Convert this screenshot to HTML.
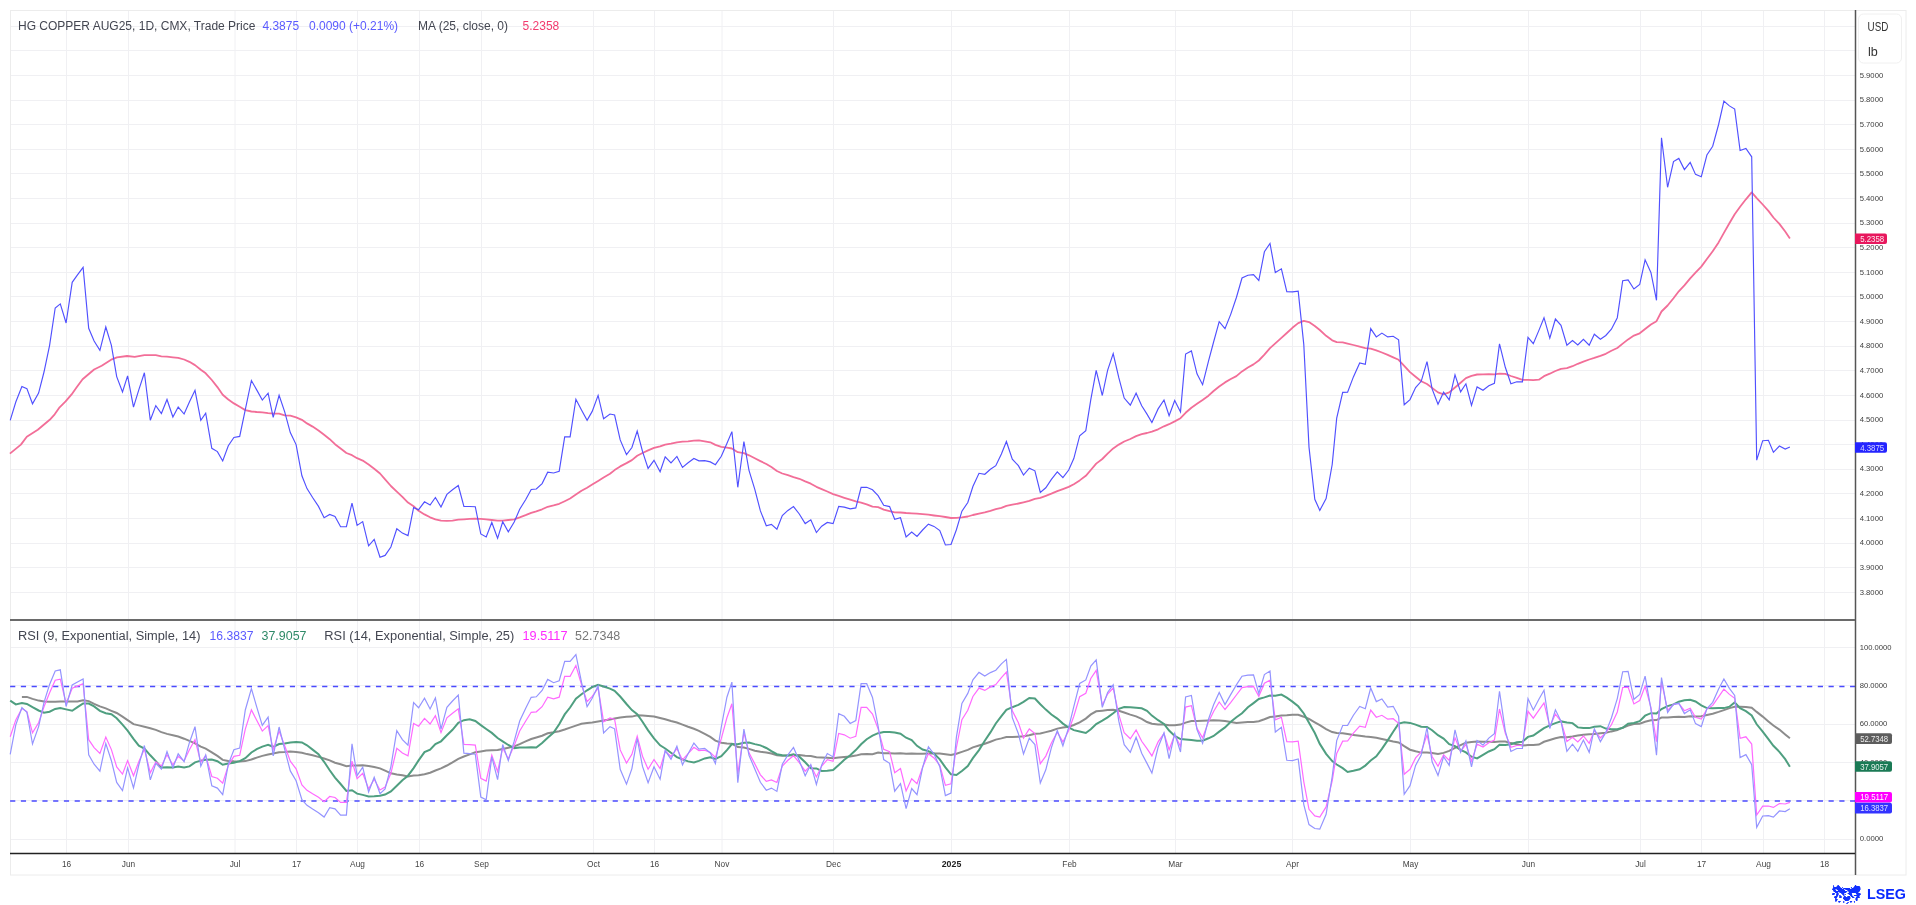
<!DOCTYPE html><html><head><meta charset="utf-8"><style>html,body{margin:0;padding:0;background:#fff;width:1916px;height:905px;overflow:hidden}svg{display:block;will-change:transform}text{font-family:"Liberation Sans",sans-serif}</style></head><body>
<svg width="1916" height="905" viewBox="0 0 1916 905">
<rect x="10.5" y="10.5" width="1895.5" height="864.5" fill="#fff" stroke="#ececec" stroke-width="1"/>
<path d="M66.5,11V853 M128.5,11V853 M235.0,11V853 M296.5,11V853 M357.5,11V853 M419.5,11V853 M481.5,11V853 M593.5,11V853 M654.5,11V853 M722.0,11V853 M833.5,11V853 M951.5,11V853 M1069.5,11V853 M1175.5,11V853 M1292.5,11V853 M1410.5,11V853 M1528.5,11V853 M1640.5,11V853 M1701.5,11V853 M1763.5,11V853 M1824.5,11V853 M11,26.5H1855 M11,50.5H1855 M11,75.5H1855 M11,100.5H1855 M11,124.5H1855 M11,149.5H1855 M11,173.5H1855 M11,198.5H1855 M11,223.5H1855 M11,247.5H1855 M11,272.5H1855 M11,296.5H1855 M11,321.5H1855 M11,346.5H1855 M11,370.5H1855 M11,395.5H1855 M11,420.5H1855 M11,444.5H1855 M11,469.5H1855 M11,493.5H1855 M11,518.5H1855 M11,543.5H1855 M11,567.5H1855 M11,592.5H1855 M11,839.5H1855 M11,800.5H1855 M11,762.5H1855 M11,724.5H1855 M11,685.5H1855 M11,647.5H1855" stroke="#f0f0f3" stroke-width="1" fill="none"/>
<path d="M10.1,686.5H1855" stroke="#4a4aff" stroke-width="1.3" stroke-dasharray="5.2,5.56" fill="none"/>
<path d="M10.1,801.0H1855" stroke="#4a4aff" stroke-width="1.3" stroke-dasharray="5.2,5.56" fill="none"/>
<path d="M1855.5,10V875" stroke="#555" stroke-width="1.5" fill="none"/>
<path d="M10,620H1855" stroke="#6a6a6a" stroke-width="2" fill="none"/>
<path d="M10,853.5H1855" stroke="#222" stroke-width="1.5" fill="none"/>
<path d="M9.9,453.6 L20.9,444.6 L26.8,436.7 L37.8,429.7 L49.7,419.8 L54.7,414.3 L59.6,407.3 L65.6,401.4 L71.6,394.4 L76.5,387.5 L82.6,379.2 L94.1,369.5 L101.7,365.7 L111.9,359.3 L116.9,357.3 L127.1,356.0 L134.7,356.8 L144.4,355.1 L150.3,355.1 L155.8,355.2 L161.4,356.3 L167.0,356.7 L172.9,357.3 L178.2,357.8 L184.1,359.5 L189.4,361.8 L195.0,365.1 L200.8,369.7 L205.7,373.3 L211.8,380.0 L217.4,387.1 L222.7,394.8 L228.3,399.5 L233.9,403.4 L239.7,406.8 L245.3,410.1 L251.4,411.5 L256.7,412.0 L262.3,412.4 L268.1,413.1 L273.2,413.5 L279.1,413.7 L284.7,415.3 L290.3,415.7 L296.1,417.3 L301.9,419.8 L307.0,423.4 L312.6,426.6 L318.5,430.5 L324.1,434.7 L329.7,439.2 L335.0,444.2 L340.6,448.5 L346.4,453.0 L352.0,455.2 L357.1,458.2 L362.7,460.6 L368.6,464.6 L374.2,468.7 L380.0,473.5 L385.1,479.3 L390.9,486.0 L396.8,491.6 L402.4,496.9 L408.0,502.6 L413.6,506.2 L418.6,510.8 L424.5,514.4 L430.1,517.3 L435.4,519.4 L441.0,520.6 L446.9,520.9 L452.5,520.6 L458.3,519.7 L463.9,519.3 L469.7,518.9 L475.3,518.6 L480.8,518.8 L486.2,519.3 L491.8,520.0 L497.6,520.6 L502.7,520.6 L508.3,520.0 L514.2,519.3 L519.7,517.4 L525.6,515.2 L531.2,512.9 L536.3,511.3 L542.1,509.3 L547.7,506.8 L553.6,505.4 L559.2,503.8 L564.7,501.2 L570.1,498.5 L575.9,494.6 L581.5,490.7 L587.1,487.7 L592.2,484.6 L598.1,481.0 L603.6,477.5 L610.0,473.8 L614.6,470.1 L620.2,466.4 L626.5,463.1 L631.9,460.1 L637.2,455.8 L642.5,453.0 L648.1,450.4 L654.0,447.9 L660.1,446.4 L665.2,444.7 L671.0,443.7 L676.9,442.4 L682.5,441.7 L688.1,441.3 L693.9,440.7 L698.9,440.3 L704.7,441.3 L710.3,442.3 L715.4,444.9 L721.3,446.8 L726.9,447.7 L731.9,448.5 L737.8,452.2 L743.9,453.1 L749.0,455.3 L754.8,458.3 L760.4,461.1 L766.3,464.0 L771.4,467.1 L776.9,471.0 L782.3,473.5 L787.9,475.2 L793.5,477.1 L799.3,478.8 L805.2,481.4 L810.8,483.7 L816.4,486.8 L821.7,489.1 L827.3,491.5 L833.1,494.1 L838.7,495.9 L844.3,497.8 L850.2,499.7 L855.8,501.4 L861.1,502.6 L866.7,504.4 L872.5,506.7 L878.1,507.1 L883.7,509.6 L889.6,511.1 L894.7,512.3 L900.5,512.5 L906.1,513.0 L911.7,513.3 L917.0,513.6 L922.6,514.2 L928.4,514.7 L934.0,515.5 L939.8,516.2 L945.4,517.0 L951.0,518.0 L956.4,517.9 L961.9,517.3 L967.8,516.5 L972.9,515.0 L979.0,513.7 L984.8,512.4 L990.4,510.8 L995.8,509.1 L1001.4,507.8 L1006.4,505.9 L1012.3,504.7 L1018.4,503.5 L1023.5,502.3 L1029.3,500.8 L1034.9,498.8 L1040.3,497.8 L1045.8,495.8 L1051.4,493.7 L1057.3,491.2 L1062.9,489.1 L1068.7,486.9 L1073.8,484.2 L1079.7,480.4 L1085.8,475.8 L1090.8,470.0 L1096.2,463.6 L1102.3,459.0 L1107.6,453.7 L1113.2,448.4 L1118.8,444.6 L1124.2,441.5 L1130.3,439.0 L1136.1,436.1 L1141.7,434.1 L1147.0,433.0 L1151.9,431.6 L1158.1,429.3 L1164.0,426.3 L1169.1,424.2 L1174.7,421.4 L1180.5,418.2 L1185.6,412.8 L1191.4,407.7 L1197.0,403.8 L1202.6,400.0 L1208.5,395.7 L1213.6,391.0 L1219.2,386.5 L1225.0,382.4 L1230.8,379.0 L1236.4,376.1 L1242.0,371.4 L1247.9,367.5 L1253.5,364.4 L1258.8,360.5 L1264.4,354.7 L1270.0,348.2 L1275.3,343.4 L1281.4,337.9 L1286.8,333.0 L1292.4,327.8 L1298.2,323.1 L1303.8,320.8 L1309.0,322.1 L1314.8,326.0 L1319.8,330.0 L1326.1,335.8 L1332.2,340.3 L1336.7,342.1 L1342.7,342.4 L1347.6,343.6 L1353.4,345.0 L1359.7,346.7 L1365.3,348.1 L1370.7,348.7 L1376.3,350.3 L1381.9,352.5 L1387.7,354.9 L1393.2,357.4 L1398.6,359.8 L1404.2,365.9 L1410.0,372.1 L1415.6,376.7 L1421.2,381.2 L1427.0,384.0 L1432.1,387.9 L1438.0,392.4 L1443.6,394.3 L1449.2,392.4 L1455.0,387.5 L1460.6,382.7 L1465.9,378.1 L1471.5,375.8 L1477.1,374.5 L1483.0,374.4 L1488.8,374.2 L1494.4,374.4 L1499.5,373.7 L1505.3,373.8 L1510.9,376.0 L1516.8,377.8 L1522.4,379.8 L1528.0,379.8 L1533.3,380.1 L1538.9,379.7 L1544.0,376.2 L1549.8,373.7 L1555.4,371.0 L1561.0,368.8 L1566.9,368.1 L1572.5,366.2 L1577.8,363.8 L1583.4,361.7 L1589.2,359.5 L1594.3,357.9 L1600.4,355.8 L1605.8,353.8 L1611.4,350.8 L1617.3,348.0 L1622.7,343.6 L1628.1,339.4 L1633.9,335.6 L1639.7,333.3 L1645.1,329.0 L1650.9,324.5 L1656.5,321.2 L1661.5,311.5 L1667.6,305.5 L1673.5,298.2 L1678.8,291.3 L1684.4,285.4 L1690.2,278.4 L1695.5,272.6 L1701.3,266.6 L1706.9,259.0 L1712.7,251.3 L1718.6,242.4 L1723.9,232.9 L1729.4,223.3 L1734.7,214.3 L1740.1,206.8 L1745.9,199.3 L1751.7,192.4 L1756.7,198.1 L1762.7,204.5 L1768.4,210.9 L1773.4,217.5 L1779.4,223.9 L1785.2,231.5 L1789.9,238.5" stroke="#f26e98" stroke-width="1.8" fill="none" stroke-linejoin="round"/>
<path d="M10.2,420.3 L15.8,402.0 L21.9,386.5 L26.9,388.6 L32.5,403.8 L38.6,393.1 L44.0,372.0 L49.6,345.3 L55.2,308.0 L60.3,303.9 L66.1,323.0 L72.2,282.3 L77.5,274.9 L83.1,267.3 L88.7,328.3 L94.1,341.0 L99.9,350.4 L105.8,327.0 L111.4,345.3 L116.7,376.6 L122.5,391.9 L127.6,375.8 L133.5,407.1 L138.8,389.8 L144.4,372.8 L150.3,420.3 L155.8,405.6 L161.4,413.5 L167.0,399.5 L172.9,417.0 L178.2,407.1 L184.1,414.0 L189.4,402.0 L195.0,390.3 L200.8,420.3 L205.7,413.2 L211.8,448.3 L217.4,451.6 L222.7,461.0 L228.3,445.8 L233.9,437.4 L239.7,436.4 L245.3,409.7 L251.4,380.5 L256.7,389.9 L262.3,400.1 L268.1,393.2 L273.2,417.4 L279.1,395.3 L284.7,411.8 L290.3,432.6 L296.1,444.6 L301.9,475.8 L307.0,488.6 L312.6,497.5 L318.5,506.4 L324.1,517.8 L329.7,514.5 L335.0,516.5 L340.6,526.7 L346.4,526.7 L352.0,503.1 L357.1,525.4 L362.7,521.6 L368.6,545.8 L374.2,539.4 L380.0,557.2 L385.1,555.4 L390.9,547.0 L396.8,528.7 L402.4,533.1 L408.0,535.6 L413.6,507.6 L418.6,509.7 L424.5,501.8 L430.1,505.1 L435.4,497.5 L441.0,507.1 L446.9,494.4 L452.5,489.8 L458.3,485.5 L463.9,506.4 L469.7,506.5 L475.3,506.8 L480.8,534.0 L486.2,537.0 L491.8,522.5 L497.6,538.3 L502.7,521.8 L508.3,531.9 L514.2,522.0 L519.7,509.3 L525.6,499.7 L531.2,489.5 L536.3,489.0 L542.1,483.6 L547.7,472.2 L553.6,473.0 L559.2,471.2 L564.7,436.9 L570.1,436.9 L575.9,399.2 L581.5,409.9 L587.1,420.3 L592.2,411.4 L598.1,395.4 L603.6,418.8 L610.0,414.0 L614.6,415.0 L620.2,439.9 L626.5,454.7 L631.9,447.5 L637.2,431.0 L642.5,451.4 L648.1,468.4 L654.0,460.3 L660.1,471.7 L665.2,456.9 L671.0,462.8 L676.9,456.4 L682.5,467.4 L688.1,462.8 L693.9,458.5 L698.9,460.8 L704.7,460.6 L710.3,461.9 L715.4,464.7 L721.3,456.3 L726.9,443.6 L731.9,431.6 L737.8,487.3 L743.9,441.5 L749.0,470.3 L754.8,489.3 L760.4,510.9 L766.3,525.7 L771.4,524.4 L776.9,529.2 L782.3,515.5 L787.9,510.4 L793.5,506.6 L799.3,514.0 L805.2,523.6 L810.8,519.8 L816.4,532.5 L821.7,526.2 L827.3,522.4 L833.1,523.6 L838.7,506.4 L844.3,507.1 L850.2,508.9 L855.8,507.9 L861.1,487.3 L866.7,487.3 L872.5,489.8 L878.1,495.7 L883.7,505.3 L889.6,506.6 L894.7,519.3 L900.5,517.8 L906.1,536.9 L911.7,532.0 L917.0,536.4 L922.6,530.0 L928.4,524.2 L934.0,526.4 L939.8,530.5 L945.4,545.0 L951.0,544.5 L956.4,529.7 L961.9,511.2 L967.8,502.5 L972.9,486.5 L979.0,473.3 L984.8,474.3 L990.4,469.2 L995.8,465.7 L1001.4,454.0 L1006.4,441.5 L1012.3,459.1 L1018.4,465.7 L1023.5,475.1 L1029.3,468.2 L1034.9,470.8 L1040.3,492.4 L1045.8,487.8 L1051.4,479.4 L1057.3,471.8 L1062.9,477.6 L1068.7,470.0 L1073.8,458.6 L1079.7,435.7 L1085.8,430.6 L1090.8,399.6 L1096.2,370.3 L1102.3,395.5 L1107.6,370.3 L1113.2,353.6 L1118.8,377.7 L1124.2,398.1 L1130.3,405.2 L1136.1,393.2 L1141.7,405.7 L1147.0,414.1 L1151.9,422.5 L1158.1,408.9 L1164.0,400.0 L1169.1,415.8 L1174.7,400.5 L1180.5,411.9 L1185.6,354.0 L1191.4,350.9 L1197.0,373.8 L1202.6,384.7 L1208.5,361.1 L1213.6,342.0 L1219.2,321.7 L1225.0,328.6 L1230.8,314.1 L1236.4,297.5 L1242.0,278.0 L1247.9,275.2 L1253.5,274.7 L1258.8,280.5 L1264.4,251.8 L1270.0,243.4 L1275.3,272.6 L1281.4,268.8 L1286.8,291.7 L1292.4,291.9 L1298.2,291.2 L1303.8,344.6 L1309.0,447.1 L1314.8,499.3 L1319.8,510.4 L1326.1,498.5 L1332.2,464.5 L1336.7,418.1 L1342.7,392.4 L1347.6,392.1 L1353.4,376.9 L1359.7,362.9 L1365.3,364.4 L1370.7,328.6 L1376.3,336.9 L1381.9,333.1 L1387.7,336.9 L1393.2,336.3 L1398.6,339.8 L1404.2,404.7 L1410.0,399.6 L1415.6,387.6 L1421.2,381.3 L1427.0,361.7 L1432.1,388.9 L1438.0,404.2 L1443.6,392.2 L1449.2,399.8 L1455.0,374.9 L1460.6,391.9 L1465.9,383.8 L1471.5,405.4 L1477.1,386.9 L1483.0,390.2 L1488.8,385.8 L1494.4,383.3 L1499.5,343.9 L1505.3,367.3 L1510.9,383.8 L1516.8,381.8 L1522.4,381.8 L1528.0,337.3 L1533.3,343.6 L1538.9,330.4 L1544.0,317.7 L1549.8,338.1 L1555.4,319.0 L1561.0,325.3 L1566.9,345.2 L1572.5,340.6 L1577.8,344.9 L1583.4,339.3 L1589.2,345.2 L1594.3,334.2 L1600.4,339.3 L1605.8,335.5 L1611.4,329.2 L1617.3,317.7 L1622.7,280.7 L1628.1,279.9 L1633.9,289.0 L1639.7,284.5 L1645.1,259.8 L1650.9,272.5 L1656.5,300.3 L1661.5,137.7 L1667.6,187.3 L1673.5,161.6 L1678.8,158.4 L1684.4,169.6 L1690.2,162.4 L1695.5,174.4 L1701.3,176.7 L1706.9,155.0 L1712.7,146.2 L1718.6,124.5 L1723.9,101.1 L1729.4,105.9 L1734.7,109.1 L1740.1,150.5 L1745.9,148.4 L1751.7,156.8 L1756.7,460.2 L1762.7,440.7 L1768.4,440.3 L1773.4,452.3 L1779.4,446.0 L1785.2,449.0 L1789.9,447.0" stroke="#5050ff" stroke-width="1.15" fill="none" stroke-linejoin="miter"/>
<path d="M21.9,696.9 L26.9,696.9 L32.5,698.9 L38.6,700.6 L44.0,701.4 L49.6,701.7 L55.2,701.7 L60.3,701.4 L66.1,701.4 L72.2,701.4 L77.5,701.4 L83.1,700.2 L88.7,701.1 L94.1,703.9 L99.9,706.4 L105.8,708.4 L111.4,710.8 L116.7,713.0 L122.5,716.7 L127.6,720.1 L133.5,724.1 L138.8,725.4 L144.4,726.7 L150.3,728.2 L155.8,729.9 L161.4,732.1 L167.0,733.9 L172.9,735.2 L178.2,736.5 L184.1,738.7 L189.4,740.9 L195.0,743.3 L200.8,746.6 L205.7,748.7 L211.8,752.3 L217.4,755.9 L222.7,759.9 L228.3,760.9 L233.9,761.3 L239.7,761.4 L245.3,761.1 L251.4,759.5 L256.7,757.6 L262.3,755.9 L268.1,754.5 L273.2,753.4 L279.1,752.2 L284.7,752.1 L290.3,751.6 L296.1,751.9 L301.9,752.7 L307.0,754.1 L312.6,755.2 L318.5,756.9 L324.1,758.5 L329.7,760.4 L335.0,762.7 L340.6,764.3 L346.4,766.2 L352.0,765.6 L357.1,765.6 L362.7,765.2 L368.6,766.1 L374.2,767.0 L380.0,768.4 L385.1,770.7 L390.9,773.3 L396.8,774.4 L402.4,775.3 L408.0,776.5 L413.6,775.4 L418.6,775.2 L424.5,774.2 L430.1,772.7 L435.4,770.5 L441.0,768.4 L446.9,765.5 L452.5,762.3 L458.3,758.8 L463.9,756.5 L469.7,754.4 L475.3,752.3 L480.8,751.4 L486.2,750.5 L491.8,750.3 L497.6,750.0 L502.7,749.0 L508.3,747.8 L514.2,746.4 L519.7,744.1 L525.6,741.4 L531.2,739.0 L536.3,737.5 L542.1,735.7 L547.7,733.3 L553.6,732.3 L559.2,731.2 L564.7,729.5 L570.1,727.6 L575.9,725.6 L581.5,723.7 L587.1,723.0 L592.2,722.4 L598.1,721.5 L603.6,720.6 L610.0,719.5 L614.6,718.5 L620.2,717.4 L626.5,716.7 L631.9,716.6 L637.2,715.2 L642.5,715.5 L648.1,716.0 L654.0,716.5 L660.1,718.0 L665.2,719.2 L671.0,721.0 L676.9,722.5 L682.5,724.6 L688.1,726.8 L693.9,728.8 L698.9,730.9 L704.7,733.9 L710.3,736.9 L715.4,740.6 L721.3,742.7 L726.9,743.4 L731.9,743.7 L737.8,747.1 L743.9,747.5 L749.0,748.9 L754.8,750.7 L760.4,751.7 L766.3,752.4 L771.4,753.5 L776.9,755.3 L782.3,755.7 L787.9,755.4 L793.5,755.2 L799.3,755.0 L805.2,755.8 L810.8,756.1 L816.4,757.3 L821.7,757.5 L827.3,757.7 L833.1,758.3 L838.7,757.6 L844.3,757.0 L850.2,756.4 L855.8,755.6 L861.1,754.3 L866.7,753.9 L872.5,754.3 L878.1,752.5 L883.7,753.2 L889.6,753.2 L894.7,753.5 L900.5,753.3 L906.1,753.7 L911.7,753.6 L917.0,753.7 L922.6,753.7 L928.4,753.4 L934.0,753.5 L939.8,753.6 L945.4,754.2 L951.0,755.0 L956.4,753.8 L961.9,751.9 L967.8,749.9 L972.9,747.4 L979.0,745.5 L984.8,743.8 L990.4,741.7 L995.8,739.6 L1001.4,738.4 L1006.4,737.0 L1012.3,736.9 L1018.4,736.7 L1023.5,736.2 L1029.3,735.3 L1034.9,733.7 L1040.3,733.5 L1045.8,732.1 L1051.4,730.7 L1057.3,728.6 L1062.9,727.6 L1068.7,726.7 L1073.8,725.0 L1079.7,722.3 L1085.8,718.6 L1090.8,714.4 L1096.2,711.3 L1102.3,710.7 L1107.6,710.1 L1113.2,709.7 L1118.8,710.8 L1124.2,712.5 L1130.3,714.6 L1136.1,716.4 L1141.7,718.9 L1147.0,722.0 L1151.9,723.8 L1158.1,724.6 L1164.0,724.4 L1169.1,725.2 L1174.7,725.3 L1180.5,724.6 L1185.6,722.6 L1191.4,721.1 L1197.0,721.0 L1202.6,720.8 L1208.5,720.5 L1213.6,720.3 L1219.2,720.5 L1225.0,721.1 L1230.8,722.1 L1236.4,723.1 L1242.0,722.4 L1247.9,722.1 L1253.5,722.0 L1258.8,721.3 L1264.4,719.3 L1270.0,717.0 L1275.3,716.6 L1281.4,715.6 L1286.8,715.3 L1292.4,714.8 L1298.2,714.7 L1303.8,716.7 L1309.0,719.0 L1314.8,722.3 L1319.8,725.1 L1326.1,729.1 L1332.2,732.1 L1336.7,733.1 L1342.7,733.2 L1347.6,734.0 L1353.4,734.9 L1359.7,735.8 L1365.3,736.6 L1370.7,736.9 L1376.3,737.8 L1381.9,738.9 L1387.7,740.2 L1393.2,741.5 L1398.6,742.5 L1404.2,746.2 L1410.0,749.7 L1415.6,751.3 L1421.2,752.6 L1427.0,752.4 L1432.1,752.9 L1438.0,754.0 L1443.6,752.9 L1449.2,750.9 L1455.0,747.8 L1460.6,745.2 L1465.9,742.7 L1471.5,741.9 L1477.1,741.5 L1483.0,741.7 L1488.8,741.8 L1494.4,742.1 L1499.5,741.4 L1505.3,741.6 L1510.9,743.1 L1516.8,744.3 L1522.4,745.5 L1528.0,745.1 L1533.3,745.1 L1538.9,744.6 L1544.0,741.8 L1549.8,740.0 L1555.4,738.3 L1561.0,737.1 L1566.9,737.3 L1572.5,736.6 L1577.8,735.6 L1583.4,734.8 L1589.2,734.2 L1594.3,733.9 L1600.4,733.3 L1605.8,732.8 L1611.4,731.4 L1617.3,730.1 L1622.7,727.7 L1628.1,725.5 L1633.9,724.1 L1639.7,723.7 L1645.1,721.8 L1650.9,720.2 L1656.5,720.1 L1661.5,717.5 L1667.6,717.5 L1673.5,716.9 L1678.8,716.7 L1684.4,717.0 L1690.2,716.3 L1695.5,716.4 L1701.3,716.3 L1706.9,715.0 L1712.7,713.7 L1718.6,711.9 L1723.9,710.1 L1729.4,708.1 L1734.7,706.8 L1740.1,706.8 L1745.9,707.0 L1751.7,707.8 L1756.7,711.9 L1762.7,716.6 L1768.4,721.4 L1773.4,725.5 L1779.4,729.6 L1785.2,734.4 L1789.9,738.2" stroke="#8c8c8c" stroke-width="2" fill="none"/>
<path d="M10.2,700.6 L15.8,704.4 L21.9,703.1 L26.9,703.9 L32.5,707.2 L38.6,710.5 L44.0,712.7 L49.6,711.7 L55.2,708.9 L60.3,708.0 L66.1,709.4 L72.2,710.8 L77.5,707.2 L83.1,703.5 L88.7,703.6 L94.1,706.4 L99.9,710.9 L105.8,713.2 L111.4,714.3 L116.7,718.3 L122.5,724.6 L127.6,730.6 L133.5,738.9 L138.8,745.7 L144.4,748.5 L150.3,755.3 L155.8,761.1 L161.4,767.6 L167.0,767.3 L172.9,767.6 L178.2,766.4 L184.1,767.6 L189.4,766.4 L195.0,762.4 L200.8,760.6 L205.7,759.7 L211.8,759.6 L217.4,761.2 L222.7,764.8 L228.3,763.6 L233.9,762.7 L239.7,761.1 L245.3,758.2 L251.4,752.5 L256.7,749.2 L262.3,746.6 L268.1,744.8 L273.2,746.8 L279.1,744.0 L284.7,743.6 L290.3,742.6 L296.1,742.0 L301.9,742.4 L307.0,745.3 L312.6,749.6 L318.5,754.2 L324.1,761.8 L329.7,770.3 L335.0,777.6 L340.6,784.0 L346.4,791.0 L352.0,790.2 L357.1,793.6 L362.7,794.9 L368.6,796.4 L374.2,796.2 L380.0,795.7 L385.1,794.6 L390.9,791.5 L396.8,785.7 L402.4,780.2 L408.0,775.7 L413.6,768.1 L418.6,760.4 L424.5,752.1 L430.1,749.6 L435.4,744.0 L441.0,741.3 L446.9,735.3 L452.5,729.8 L458.3,722.8 L463.9,720.2 L469.7,719.3 L475.3,721.0 L480.8,725.1 L486.2,729.0 L491.8,732.9 L497.6,738.0 L502.7,741.3 L508.3,745.0 L514.2,748.1 L519.7,747.5 L525.6,747.6 L531.2,747.3 L536.3,747.5 L542.1,743.0 L547.7,737.7 L553.6,732.6 L559.2,724.3 L564.7,714.4 L570.1,707.5 L575.9,698.6 L581.5,694.2 L587.1,690.3 L592.2,687.2 L598.1,684.7 L603.6,686.5 L610.0,688.6 L614.6,690.8 L620.2,696.5 L626.5,704.0 L631.9,710.1 L637.2,714.2 L642.5,721.7 L648.1,730.4 L654.0,738.4 L660.1,745.3 L665.2,748.5 L671.0,752.8 L676.9,757.1 L682.5,759.4 L688.1,761.4 L693.9,762.4 L698.9,760.9 L704.7,758.4 L710.3,757.3 L715.4,759.0 L721.3,756.2 L726.9,750.1 L731.9,744.1 L737.8,744.3 L743.9,742.8 L749.0,742.5 L754.8,744.1 L760.4,745.4 L766.3,748.0 L771.4,751.2 L776.9,754.2 L782.3,755.3 L787.9,755.5 L793.5,754.3 L799.3,756.7 L805.2,762.3 L810.8,768.2 L816.4,768.4 L821.7,770.9 L827.3,770.8 L833.1,770.0 L838.7,765.1 L844.3,759.8 L850.2,755.2 L855.8,750.1 L861.1,744.3 L866.7,739.2 L872.5,735.7 L878.1,733.2 L883.7,732.1 L889.6,732.0 L894.7,732.5 L900.5,733.8 L906.1,737.7 L911.7,740.0 L917.0,745.8 L922.6,749.5 L928.4,751.1 L934.0,753.5 L939.8,759.4 L945.4,767.4 L951.0,774.3 L956.4,775.0 L961.9,771.0 L967.8,766.0 L972.9,758.1 L979.0,750.1 L984.8,740.7 L990.4,732.4 L995.8,723.5 L1001.4,716.1 L1006.4,709.8 L1012.3,707.2 L1018.4,704.9 L1023.5,701.9 L1029.3,698.0 L1034.9,698.5 L1040.3,704.2 L1045.8,709.6 L1051.4,714.5 L1057.3,718.6 L1062.9,723.6 L1068.7,727.5 L1073.8,730.1 L1079.7,731.5 L1085.8,733.0 L1090.8,729.3 L1096.2,724.0 L1102.3,720.7 L1107.6,717.4 L1113.2,713.2 L1118.8,708.8 L1124.2,707.0 L1130.3,707.3 L1136.1,707.8 L1141.7,708.3 L1147.0,710.9 L1151.9,715.6 L1158.1,720.2 L1164.0,724.0 L1169.1,730.6 L1174.7,735.9 L1180.5,739.1 L1185.6,739.4 L1191.4,740.1 L1197.0,740.7 L1202.6,740.7 L1208.5,738.3 L1213.6,736.0 L1219.2,731.6 L1225.0,727.4 L1230.8,721.8 L1236.4,717.3 L1242.0,713.3 L1247.9,707.3 L1253.5,703.1 L1258.8,699.0 L1264.4,697.4 L1270.0,695.6 L1275.3,695.8 L1281.4,694.6 L1286.8,697.6 L1292.4,701.6 L1298.2,706.3 L1303.8,713.5 L1309.0,722.8 L1314.8,733.0 L1319.8,743.9 L1326.1,753.9 L1332.2,761.1 L1336.7,764.5 L1342.7,768.1 L1347.6,772.0 L1353.4,770.8 L1359.7,769.3 L1365.3,765.6 L1370.7,760.5 L1376.3,756.4 L1381.9,748.8 L1387.7,740.4 L1393.2,731.7 L1398.6,723.6 L1404.2,722.2 L1410.0,722.9 L1415.6,724.6 L1421.2,726.8 L1427.0,726.9 L1432.1,730.2 L1438.0,735.2 L1443.6,738.6 L1449.2,744.1 L1455.0,746.1 L1460.6,749.9 L1465.9,752.4 L1471.5,756.7 L1477.1,758.4 L1483.0,754.9 L1488.8,751.5 L1494.4,749.2 L1499.5,744.7 L1505.3,744.9 L1510.9,744.2 L1516.8,742.2 L1522.4,741.7 L1528.0,736.9 L1533.3,735.5 L1538.9,731.7 L1544.0,728.1 L1549.8,725.3 L1555.4,723.1 L1561.0,721.4 L1566.9,722.4 L1572.5,723.1 L1577.8,727.4 L1583.4,728.1 L1589.2,728.1 L1594.3,726.7 L1600.4,726.2 L1605.8,728.6 L1611.4,729.2 L1617.3,729.2 L1622.7,727.8 L1628.1,723.7 L1633.9,723.0 L1639.7,721.1 L1645.1,715.7 L1650.9,713.2 L1656.5,713.5 L1661.5,709.0 L1667.6,706.1 L1673.5,704.4 L1678.8,701.7 L1684.4,700.3 L1690.2,699.7 L1695.5,701.5 L1701.3,705.4 L1706.9,708.1 L1712.7,708.3 L1718.6,707.9 L1723.9,708.1 L1729.4,706.7 L1734.7,702.4 L1740.1,708.1 L1745.9,711.1 L1751.7,715.4 L1756.7,724.3 L1762.7,731.6 L1768.4,739.2 L1773.4,745.8 L1779.4,751.9 L1785.2,759.2 L1789.9,766.8" stroke="#4f9f80" stroke-width="2" fill="none"/>
<path d="M10.2,736.8 L15.8,719.9 L21.9,708.6 L26.9,711.6 L32.5,732.8 L38.6,722.7 L44.0,706.7 L49.6,692.7 L55.2,680.2 L60.3,679.1 L66.1,703.7 L72.2,688.3 L77.5,686.1 L83.1,683.7 L88.7,739.7 L94.1,747.6 L99.9,753.4 L105.8,737.1 L111.4,749.6 L116.7,767.0 L122.5,774.1 L127.6,760.6 L133.5,775.8 L138.8,761.7 L144.4,749.0 L150.3,772.8 L155.8,762.0 L161.4,765.9 L167.0,754.8 L172.9,764.9 L178.2,756.4 L184.1,760.9 L189.4,749.7 L195.0,739.5 L200.8,762.3 L205.7,755.5 L211.8,776.5 L217.4,778.2 L222.7,783.1 L228.3,765.4 L233.9,756.4 L239.7,755.3 L245.3,729.1 L251.4,709.9 L256.7,720.3 L262.3,731.1 L268.1,725.6 L273.2,749.6 L279.1,731.0 L284.7,745.7 L290.3,761.2 L296.1,768.9 L301.9,785.0 L307.0,790.3 L312.6,793.8 L318.5,797.3 L324.1,801.7 L329.7,796.5 L335.0,797.5 L340.6,802.4 L346.4,802.4 L352.0,761.1 L357.1,778.7 L362.7,773.2 L368.6,788.8 L374.2,779.3 L380.0,790.0 L385.1,787.1 L390.9,773.3 L396.8,748.3 L402.4,753.0 L408.0,755.9 L413.6,723.4 L418.6,726.2 L424.5,718.4 L430.1,724.0 L435.4,715.7 L441.0,732.6 L446.9,717.9 L452.5,713.2 L458.3,708.8 L463.9,744.5 L469.7,744.7 L475.3,745.1 L480.8,778.3 L486.2,781.0 L491.8,755.2 L497.6,771.6 L502.7,747.9 L508.3,758.8 L514.2,745.6 L519.7,731.0 L525.6,721.3 L531.2,712.3 L536.3,711.8 L542.1,706.7 L547.7,697.1 L553.6,698.8 L559.2,697.2 L564.7,676.4 L570.1,676.4 L575.9,665.5 L581.5,684.6 L587.1,701.7 L592.2,696.4 L598.1,688.1 L603.6,721.7 L610.0,717.9 L614.6,719.4 L620.2,749.9 L626.5,763.1 L631.9,754.3 L637.2,736.2 L642.5,756.2 L648.1,769.3 L654.0,759.5 L660.1,768.7 L665.2,751.0 L671.0,756.5 L676.9,748.6 L682.5,760.0 L688.1,753.6 L693.9,747.3 L698.9,750.6 L704.7,750.2 L710.3,752.4 L715.4,757.5 L721.3,738.7 L726.9,717.8 L731.9,703.7 L737.8,773.9 L743.9,732.3 L749.0,752.8 L754.8,763.9 L760.4,774.8 L766.3,781.3 L771.4,780.0 L776.9,782.5 L782.3,766.1 L787.9,760.3 L793.5,755.7 L799.3,762.6 L805.2,771.2 L810.8,765.2 L816.4,776.9 L821.7,766.1 L827.3,759.6 L833.1,761.3 L838.7,733.5 L844.3,734.8 L850.2,738.2 L855.8,736.3 L861.1,707.4 L866.7,707.4 L872.5,714.1 L878.1,728.9 L883.7,749.3 L889.6,751.7 L894.7,772.7 L900.5,768.6 L906.1,791.0 L911.7,778.8 L917.0,783.7 L922.6,767.3 L928.4,753.8 L934.0,757.9 L939.8,765.3 L945.4,785.3 L951.0,783.8 L956.4,747.5 L961.9,719.6 L967.8,710.2 L972.9,696.5 L979.0,688.1 L984.8,690.4 L990.4,686.9 L995.8,684.6 L1001.4,677.6 L1006.4,672.0 L1012.3,710.9 L1018.4,722.7 L1023.5,738.0 L1029.3,729.0 L1034.9,733.5 L1040.3,763.7 L1045.8,756.1 L1051.4,742.9 L1057.3,732.2 L1062.9,741.9 L1068.7,730.5 L1073.8,716.2 L1079.7,696.7 L1085.8,693.3 L1090.8,678.5 L1096.2,670.4 L1102.3,705.1 L1107.6,694.1 L1113.2,688.1 L1118.8,714.7 L1124.2,732.8 L1130.3,738.8 L1136.1,729.9 L1141.7,741.3 L1147.0,748.7 L1151.9,755.9 L1158.1,741.9 L1164.0,733.4 L1169.1,749.8 L1174.7,734.7 L1180.5,746.5 L1185.6,707.1 L1191.4,705.7 L1197.0,728.4 L1202.6,737.8 L1208.5,721.9 L1213.6,711.5 L1219.2,702.0 L1225.0,709.5 L1230.8,702.3 L1236.4,695.0 L1242.0,687.6 L1247.9,686.6 L1253.5,686.4 L1258.8,696.3 L1264.4,683.2 L1270.0,680.3 L1275.3,719.9 L1281.4,717.3 L1286.8,741.7 L1292.4,741.9 L1298.2,741.1 L1303.8,781.8 L1309.0,809.3 L1314.8,815.9 L1319.8,817.1 L1326.1,806.9 L1332.2,780.8 L1336.7,753.5 L1342.7,741.2 L1347.6,741.0 L1353.4,733.2 L1359.7,726.2 L1365.3,727.4 L1370.7,710.1 L1376.3,717.2 L1381.9,715.3 L1387.7,719.2 L1393.2,718.7 L1398.6,723.2 L1404.2,774.2 L1410.0,769.3 L1415.6,757.9 L1421.2,751.9 L1427.0,734.9 L1432.1,756.5 L1438.0,766.2 L1443.6,754.8 L1449.2,760.4 L1455.0,737.8 L1460.6,751.6 L1465.9,744.4 L1471.5,761.1 L1477.1,744.2 L1483.0,747.0 L1488.8,742.7 L1494.4,740.1 L1499.5,709.0 L1505.3,733.3 L1510.9,747.3 L1516.8,745.5 L1522.4,745.5 L1528.0,711.3 L1533.3,718.2 L1538.9,710.1 L1544.0,702.9 L1549.8,726.6 L1555.4,714.1 L1561.0,721.3 L1566.9,741.4 L1572.5,737.3 L1577.8,741.9 L1583.4,736.0 L1589.2,743.3 L1594.3,730.6 L1600.4,737.8 L1605.8,732.9 L1611.4,724.8 L1617.3,712.0 L1622.7,687.5 L1628.1,687.1 L1633.9,703.9 L1639.7,700.5 L1645.1,686.1 L1650.9,707.4 L1656.5,741.6 L1661.5,681.7 L1667.6,710.5 L1673.5,704.3 L1678.8,703.5 L1684.4,710.7 L1690.2,708.3 L1695.5,717.2 L1701.3,719.1 L1706.9,709.1 L1712.7,705.4 L1718.6,696.8 L1723.9,689.1 L1729.4,694.4 L1734.7,698.3 L1740.1,738.3 L1745.9,736.8 L1751.7,744.1 L1756.7,815.0 L1762.7,806.2 L1768.4,806.0 L1773.4,807.4 L1779.4,803.5 L1785.2,804.0 L1789.9,802.4" stroke="#ff6aff" stroke-width="1.2" fill="none"/>
<path d="M10.2,754.3 L15.8,724.9 L21.9,707.5 L26.9,712.2 L32.5,744.0 L38.6,726.6 L44.0,702.3 L49.6,684.4 L55.2,670.9 L60.3,669.8 L66.1,706.5 L72.2,684.9 L77.5,682.0 L83.1,678.9 L88.7,754.9 L94.1,764.2 L99.9,771.1 L105.8,743.5 L111.4,760.7 L116.7,782.4 L122.5,790.6 L127.6,767.8 L133.5,787.8 L138.8,765.0 L144.4,745.5 L150.3,779.9 L155.8,763.4 L161.4,769.2 L167.0,751.5 L172.9,767.8 L178.2,753.8 L184.1,761.6 L189.4,742.7 L195.0,726.7 L200.8,766.2 L205.7,755.0 L211.8,785.9 L217.4,788.1 L222.7,794.7 L228.3,764.3 L233.9,749.7 L239.7,748.0 L245.3,710.0 L251.4,688.7 L256.7,706.8 L262.3,725.4 L268.1,717.2 L273.2,755.9 L279.1,727.0 L284.7,749.4 L290.3,770.9 L296.1,780.8 L301.9,799.7 L307.0,805.3 L312.6,809.0 L318.5,812.7 L324.1,817.0 L329.7,807.6 L335.0,808.9 L340.6,815.1 L346.4,815.1 L352.0,743.8 L357.1,775.7 L362.7,767.2 L368.6,792.0 L374.2,777.3 L380.0,793.6 L385.1,788.9 L390.9,766.6 L396.8,730.7 L402.4,739.6 L408.0,745.2 L413.6,702.5 L418.6,707.7 L424.5,698.3 L430.1,709.0 L435.4,697.9 L441.0,729.2 L446.9,707.4 L452.5,701.0 L458.3,695.0 L463.9,753.2 L469.7,753.6 L475.3,754.2 L480.8,797.1 L486.2,799.8 L491.8,756.9 L497.6,779.7 L502.7,744.5 L508.3,760.6 L514.2,741.2 L519.7,721.0 L525.6,708.5 L531.2,697.3 L536.3,696.8 L542.1,690.4 L547.7,679.4 L553.6,682.7 L559.2,680.7 L564.7,661.4 L570.1,661.4 L575.9,654.5 L581.5,682.2 L587.1,706.6 L592.2,698.2 L598.1,685.9 L603.6,732.9 L610.0,726.6 L614.6,728.8 L620.2,769.3 L626.5,784.2 L631.9,768.6 L637.2,738.5 L642.5,766.4 L648.1,782.7 L654.0,766.7 L660.1,779.2 L665.2,750.6 L671.0,759.2 L676.9,746.2 L682.5,764.8 L688.1,753.7 L693.9,743.0 L698.9,749.2 L704.7,748.3 L710.3,753.0 L715.4,763.6 L721.3,727.0 L726.9,697.2 L731.9,682.1 L737.8,782.6 L743.9,729.0 L749.0,755.2 L754.8,769.0 L760.4,782.3 L766.3,790.2 L771.4,788.1 L776.9,791.4 L782.3,764.3 L787.9,754.9 L793.5,747.4 L799.3,760.7 L805.2,775.7 L810.8,764.6 L816.4,784.4 L821.7,764.9 L827.3,753.6 L833.1,756.9 L838.7,713.6 L844.3,716.3 L850.2,723.5 L855.8,720.5 L861.1,683.7 L866.7,683.7 L872.5,697.4 L878.1,726.2 L883.7,759.6 L889.6,763.3 L894.7,791.2 L900.5,783.7 L906.1,808.6 L911.7,788.5 L917.0,794.7 L922.6,767.7 L928.4,746.8 L934.0,754.0 L939.8,766.7 L945.4,795.6 L951.0,793.0 L956.4,737.2 L961.9,703.4 L967.8,693.4 L972.9,679.9 L979.0,672.4 L984.8,676.0 L990.4,672.6 L995.8,670.2 L1001.4,663.8 L1006.4,659.4 L1012.3,717.7 L1018.4,733.8 L1023.5,753.9 L1029.3,738.1 L1034.9,744.6 L1040.3,783.0 L1045.8,769.8 L1051.4,747.6 L1057.3,730.5 L1062.9,745.8 L1068.7,727.4 L1073.8,706.7 L1079.7,683.4 L1085.8,679.9 L1090.8,666.0 L1096.2,659.8 L1102.3,707.4 L1107.6,692.5 L1113.2,684.7 L1118.8,721.2 L1124.2,744.7 L1130.3,752.3 L1136.1,737.2 L1141.7,753.3 L1147.0,763.4 L1151.9,773.1 L1158.1,747.3 L1164.0,732.9 L1169.1,758.6 L1174.7,733.5 L1180.5,752.0 L1185.6,697.0 L1191.4,695.4 L1197.0,729.7 L1202.6,743.4 L1208.5,719.2 L1213.6,704.7 L1219.2,692.5 L1225.0,704.6 L1230.8,694.4 L1236.4,684.9 L1242.0,676.2 L1247.9,675.1 L1253.5,674.9 L1258.8,693.5 L1264.4,674.6 L1270.0,671.1 L1275.3,732.0 L1281.4,727.3 L1286.8,760.3 L1292.4,760.6 L1298.2,758.9 L1303.8,804.6 L1309.0,824.6 L1314.8,828.5 L1319.8,829.2 L1326.1,814.3 L1332.2,776.5 L1336.7,740.6 L1342.7,725.5 L1347.6,725.3 L1353.4,715.2 L1359.7,706.4 L1365.3,708.7 L1370.7,688.0 L1376.3,701.6 L1381.9,699.0 L1387.7,707.0 L1393.2,706.3 L1398.6,716.4 L1404.2,794.3 L1410.0,785.7 L1415.6,765.4 L1421.2,755.0 L1427.0,727.5 L1432.1,761.8 L1438.0,775.5 L1443.6,756.6 L1449.2,765.3 L1455.0,729.9 L1460.6,752.2 L1465.9,740.8 L1471.5,766.9 L1477.1,740.5 L1483.0,745.1 L1488.8,738.1 L1494.4,733.6 L1499.5,691.3 L1505.3,730.8 L1510.9,751.5 L1516.8,748.5 L1522.4,748.5 L1528.0,698.6 L1533.3,710.0 L1538.9,699.2 L1544.0,690.2 L1549.8,728.5 L1555.4,709.8 L1561.0,721.1 L1566.9,751.3 L1572.5,744.2 L1577.8,751.3 L1583.4,740.1 L1589.2,752.3 L1594.3,728.8 L1600.4,741.6 L1605.8,732.4 L1611.4,718.0 L1617.3,698.6 L1622.7,671.7 L1628.1,671.3 L1633.9,699.3 L1639.7,694.5 L1645.1,676.1 L1650.9,708.9 L1656.5,755.1 L1661.5,677.5 L1667.6,712.4 L1673.5,704.4 L1678.8,703.3 L1684.4,713.6 L1690.2,709.8 L1695.5,723.6 L1701.3,726.6 L1706.9,708.6 L1712.7,702.3 L1718.6,689.0 L1723.9,678.9 L1729.4,688.3 L1734.7,695.4 L1740.1,757.5 L1745.9,754.6 L1751.7,764.6 L1756.7,827.4 L1762.7,816.0 L1768.4,815.7 L1773.4,817.1 L1779.4,811.0 L1785.2,811.6 L1789.9,808.7" stroke="#9494ff" stroke-width="1.2" fill="none"/>
<text x="18" y="29.7" fill="#434651" font-size="12" >HG COPPER AUG25, 1D, CMX, Trade Price</text>
<text x="262.4" y="29.7" fill="#5b5bff" font-size="12" >4.3875</text>
<text x="309" y="29.7" fill="#5b5bff" font-size="12" >0.0090 (+0.21%)</text>
<text x="418" y="29.7" fill="#434651" font-size="12" >MA (25, close, 0)</text>
<text x="522.6" y="29.7" fill="#f23a6e" font-size="12" >5.2358</text>
<text x="18.0" y="640" fill="#434651" font-size="12"  textLength="182.5" lengthAdjust="spacingAndGlyphs">RSI (9, Exponential, Simple, 14)</text>
<text x="209.5" y="640" fill="#5b5bff" font-size="12"  textLength="44" lengthAdjust="spacingAndGlyphs">16.3837</text>
<text x="261.5" y="640" fill="#2f8a68" font-size="12"  textLength="45" lengthAdjust="spacingAndGlyphs">37.9057</text>
<text x="324.3" y="640" fill="#434651" font-size="12"  textLength="190" lengthAdjust="spacingAndGlyphs">RSI (14, Exponential, Simple, 25)</text>
<text x="522.5" y="640" fill="#ff2bff" font-size="12"  textLength="45" lengthAdjust="spacingAndGlyphs">19.5117</text>
<text x="575.1" y="640" fill="#787878" font-size="12"  textLength="45.2" lengthAdjust="spacingAndGlyphs">52.7348</text>
<text x="1859.7" y="77.7" fill="#3d3d3d" font-size="8"  textLength="23.5" lengthAdjust="spacingAndGlyphs">5.9000</text>
<text x="1859.7" y="102.30999999999992" fill="#3d3d3d" font-size="8"  textLength="23.5" lengthAdjust="spacingAndGlyphs">5.8000</text>
<text x="1859.7" y="126.92000000000004" fill="#3d3d3d" font-size="8"  textLength="23.5" lengthAdjust="spacingAndGlyphs">5.7000</text>
<text x="1859.7" y="151.52999999999994" fill="#3d3d3d" font-size="8"  textLength="23.5" lengthAdjust="spacingAndGlyphs">5.6000</text>
<text x="1859.7" y="176.14000000000007" fill="#3d3d3d" font-size="8"  textLength="23.5" lengthAdjust="spacingAndGlyphs">5.5000</text>
<text x="1859.7" y="200.75" fill="#3d3d3d" font-size="8"  textLength="23.5" lengthAdjust="spacingAndGlyphs">5.4000</text>
<text x="1859.7" y="225.3599999999999" fill="#3d3d3d" font-size="8"  textLength="23.5" lengthAdjust="spacingAndGlyphs">5.3000</text>
<text x="1859.7" y="249.97000000000003" fill="#3d3d3d" font-size="8"  textLength="23.5" lengthAdjust="spacingAndGlyphs">5.2000</text>
<text x="1859.7" y="274.5799999999999" fill="#3d3d3d" font-size="8"  textLength="23.5" lengthAdjust="spacingAndGlyphs">5.1000</text>
<text x="1859.7" y="299.1900000000001" fill="#3d3d3d" font-size="8"  textLength="23.5" lengthAdjust="spacingAndGlyphs">5.0000</text>
<text x="1859.7" y="323.8" fill="#3d3d3d" font-size="8"  textLength="23.5" lengthAdjust="spacingAndGlyphs">4.9000</text>
<text x="1859.7" y="348.4099999999999" fill="#3d3d3d" font-size="8"  textLength="23.5" lengthAdjust="spacingAndGlyphs">4.8000</text>
<text x="1859.7" y="373.02000000000004" fill="#3d3d3d" font-size="8"  textLength="23.5" lengthAdjust="spacingAndGlyphs">4.7000</text>
<text x="1859.7" y="397.62999999999994" fill="#3d3d3d" font-size="8"  textLength="23.5" lengthAdjust="spacingAndGlyphs">4.6000</text>
<text x="1859.7" y="422.24000000000007" fill="#3d3d3d" font-size="8"  textLength="23.5" lengthAdjust="spacingAndGlyphs">4.5000</text>
<text x="1859.7" y="446.84999999999997" fill="#3d3d3d" font-size="8"  textLength="23.5" lengthAdjust="spacingAndGlyphs">4.4000</text>
<text x="1859.7" y="471.45999999999987" fill="#3d3d3d" font-size="8"  textLength="23.5" lengthAdjust="spacingAndGlyphs">4.3000</text>
<text x="1859.7" y="496.07000000000005" fill="#3d3d3d" font-size="8"  textLength="23.5" lengthAdjust="spacingAndGlyphs">4.2000</text>
<text x="1859.7" y="520.6800000000001" fill="#3d3d3d" font-size="8"  textLength="23.5" lengthAdjust="spacingAndGlyphs">4.1000</text>
<text x="1859.7" y="545.2900000000002" fill="#3d3d3d" font-size="8"  textLength="23.5" lengthAdjust="spacingAndGlyphs">4.0000</text>
<text x="1859.7" y="569.9000000000001" fill="#3d3d3d" font-size="8"  textLength="23.5" lengthAdjust="spacingAndGlyphs">3.9000</text>
<text x="1859.7" y="594.5100000000001" fill="#3d3d3d" font-size="8"  textLength="23.5" lengthAdjust="spacingAndGlyphs">3.8000</text>
<text x="1859.7" y="841.4000000000001" fill="#3d3d3d" font-size="8"  textLength="23.7" lengthAdjust="spacingAndGlyphs">0.0000</text>
<text x="1859.7" y="726.3800000000001" fill="#3d3d3d" font-size="8"  textLength="27.7" lengthAdjust="spacingAndGlyphs">60.0000</text>
<text x="1859.7" y="688.0400000000001" fill="#3d3d3d" font-size="8"  textLength="27.7" lengthAdjust="spacingAndGlyphs">80.0000</text>
<text x="1859.7" y="649.7" fill="#3d3d3d" font-size="8"  textLength="31.7" lengthAdjust="spacingAndGlyphs">100.0000</text>
<text x="1859.7" y="764.72" fill="#3d3d3d" font-size="8"  textLength="27.7" lengthAdjust="spacingAndGlyphs">40.0000</text>
<rect x="1858.5" y="14" width="43" height="49" rx="5" fill="#fff" stroke="#f0f0f0"/>
<text x="1867.6" y="30.9" fill="#333" font-size="12"  textLength="20.8" lengthAdjust="spacingAndGlyphs">USD</text>
<text x="1868" y="56.4" fill="#333" font-size="12"  textLength="9.8" lengthAdjust="spacingAndGlyphs">lb</text>
<path d="M1855,233.4H1885.0a2,2 0 0 1 2,2V242.0a2,2 0 0 1 -2,2H1855Z" fill="#e8175d"/>
<text x="1860.2" y="241.7" fill="#fde7ee" font-size="8.5"  textLength="24" lengthAdjust="spacingAndGlyphs">5.2358</text>
<path d="M1855,442.2H1885.0a2,2 0 0 1 2,2V450.8a2,2 0 0 1 -2,2H1855Z" fill="#2424ff"/>
<text x="1860.2" y="450.5" fill="#d6d6ff" font-size="8.5"  textLength="24" lengthAdjust="spacingAndGlyphs">4.3875</text>
<path d="M1855,733.3H1890.0a2,2 0 0 1 2,2V741.9a2,2 0 0 1 -2,2H1855Z" fill="#5d5d5d"/>
<text x="1860.2" y="741.6" fill="#eee" font-size="8.5"  textLength="28" lengthAdjust="spacingAndGlyphs">52.7348</text>
<path d="M1855,761.2H1890.0a2,2 0 0 1 2,2V769.8a2,2 0 0 1 -2,2H1855Z" fill="#1a7a55"/>
<text x="1860.2" y="769.5" fill="#e6f2ec" font-size="8.5"  textLength="28" lengthAdjust="spacingAndGlyphs">37.9057</text>
<path d="M1855,792.0H1890.0a2,2 0 0 1 2,2V800.6a2,2 0 0 1 -2,2H1855Z" fill="#ff00ff"/>
<text x="1860.2" y="800.3" fill="#fff" font-size="8.5"  textLength="28" lengthAdjust="spacingAndGlyphs">19.5117</text>
<path d="M1855,802.8H1890.0a2,2 0 0 1 2,2V811.4a2,2 0 0 1 -2,2H1855Z" fill="#3333ff"/>
<text x="1860.2" y="811.1" fill="#e0e0ff" font-size="8.5"  textLength="28" lengthAdjust="spacingAndGlyphs">16.3837</text>
<text x="66.5" y="867.2" fill="#444" font-size="8.3" text-anchor="middle">16</text>
<text x="128.5" y="867.2" fill="#444" font-size="8.3" text-anchor="middle">Jun</text>
<text x="235" y="867.2" fill="#444" font-size="8.3" text-anchor="middle">Jul</text>
<text x="296.5" y="867.2" fill="#444" font-size="8.3" text-anchor="middle">17</text>
<text x="357.5" y="867.2" fill="#444" font-size="8.3" text-anchor="middle">Aug</text>
<text x="419.5" y="867.2" fill="#444" font-size="8.3" text-anchor="middle">16</text>
<text x="481.5" y="867.2" fill="#444" font-size="8.3" text-anchor="middle">Sep</text>
<text x="593.5" y="867.2" fill="#444" font-size="8.3" text-anchor="middle">Oct</text>
<text x="654.5" y="867.2" fill="#444" font-size="8.3" text-anchor="middle">16</text>
<text x="722" y="867.2" fill="#444" font-size="8.3" text-anchor="middle">Nov</text>
<text x="833.5" y="867.2" fill="#444" font-size="8.3" text-anchor="middle">Dec</text>
<text x="951.5" y="867.2" fill="#222" font-size="8.8" text-anchor="middle" font-weight="bold">2025</text>
<text x="1069.5" y="867.2" fill="#444" font-size="8.3" text-anchor="middle">Feb</text>
<text x="1175.5" y="867.2" fill="#444" font-size="8.3" text-anchor="middle">Mar</text>
<text x="1292.5" y="867.2" fill="#444" font-size="8.3" text-anchor="middle">Apr</text>
<text x="1410.5" y="867.2" fill="#444" font-size="8.3" text-anchor="middle">May</text>
<text x="1528.5" y="867.2" fill="#444" font-size="8.3" text-anchor="middle">Jun</text>
<text x="1640.5" y="867.2" fill="#444" font-size="8.3" text-anchor="middle">Jul</text>
<text x="1701.5" y="867.2" fill="#444" font-size="8.3" text-anchor="middle">17</text>
<text x="1763.5" y="867.2" fill="#444" font-size="8.3" text-anchor="middle">Aug</text>
<text x="1824.5" y="867.2" fill="#444" font-size="8.3" text-anchor="middle">18</text>
<text x="1867" y="899" fill="#0a2aff" font-size="15.5" font-weight="bold" textLength="39" lengthAdjust="spacingAndGlyphs">LSEG</text>
<path d="M1833.1,885H1833.8V886H1833.1Z M1837.4,885H1838.9V886H1837.4Z M1854.9,885H1856.2V886H1854.9Z M1833.1,886H1834.1V887H1833.1Z M1836.6,886H1839.9V887H1836.6Z M1854.2,886H1859.8V887H1854.2Z M1833.1,887H1840.7V888H1833.1Z M1842.2,887H1843.0V888H1842.2Z M1850.9,887H1851.9V888H1850.9Z M1853.4,887H1860.3V888H1853.4Z M1832.6,888H1842.2V889H1832.6Z M1843.2,888H1850.1V889H1843.2Z M1851.4,888H1860.5V889H1851.4Z M1832.1,889H1835.6V890H1832.1Z M1836.6,889H1844.3V890H1836.6Z M1845.3,889H1860.5V890H1845.3Z M1833.1,890H1836.1V891H1833.1Z M1837.9,890H1845.0V891H1837.9Z M1847.3,890H1860.0V891H1847.3Z M1833.6,891H1847.3V892H1833.6Z M1848.3,891H1859.5V892H1848.3Z M1835.1,892H1838.2V893H1835.1Z M1839.4,892H1846.3V893H1839.4Z M1848.8,892H1858.5V893H1848.8Z M1832.3,893H1834.9V894H1832.3Z M1836.4,893H1838.7V894H1836.4Z M1841.2,893H1844.3V894H1841.2Z M1847.6,893H1851.9V894H1847.6Z M1855.9,893H1860.5V894H1855.9Z M1832.1,894H1834.6V895H1832.1Z M1836.1,894H1838.7V895H1836.1Z M1842.2,894H1844.0V895H1842.2Z M1844.5,894H1845.8V895H1844.5Z M1848.8,894H1852.1V895H1848.8Z M1856.5,894H1860.8V895H1856.5Z M1836.1,895H1838.2V896H1836.1Z M1839.2,895H1840.7V896H1839.2Z M1843.2,895H1844.5V896H1843.2Z M1850.1,895H1852.4V896H1850.1Z M1853.9,895H1859.8V896H1853.9Z M1834.4,896H1837.7V897H1834.4Z M1839.2,896H1841.7V897H1839.2Z M1843.8,896H1845.8V897H1843.8Z M1847.3,896H1850.1V897H1847.3Z M1850.9,896H1853.4V897H1850.9Z M1856.5,896H1859.5V897H1856.5Z M1834.1,897H1837.1V898H1834.1Z M1839.2,897H1841.7V898H1839.2Z M1843.2,897H1850.4V898H1843.2Z M1852.1,897H1854.4V898H1852.1Z M1855.9,897H1859.8V898H1855.9Z M1835.1,898H1836.6V899H1835.1Z M1843.0,898H1850.4V899H1843.0Z M1855.4,898H1857.7V899H1855.4Z M1835.1,899H1837.7V900H1835.1Z M1843.8,899H1849.8V900H1843.8Z M1855.4,899H1857.7V900H1855.4Z M1835.1,900H1837.1V901H1835.1Z M1844.8,900H1848.8V901H1844.8Z M1855.9,900H1857.5V901H1855.9Z M1835.4,901H1836.4V902H1835.4Z M1838.2,901H1840.7V902H1838.2Z M1843.2,901H1844.3V902H1843.2Z M1849.8,901H1852.1V902H1849.8Z M1853.9,901H1854.9V902H1853.9Z M1838.7,902H1839.7V903H1838.7Z M1843.2,902H1844.3V903H1843.2Z M1847.3,902H1848.8V903H1847.3Z M1850.4,902H1851.4V903H1850.4Z M1854.2,902H1854.9V903H1854.2Z M1846.3,903H1847.8V904H1846.3Z" fill="#1030ff"/>
</svg></body></html>
